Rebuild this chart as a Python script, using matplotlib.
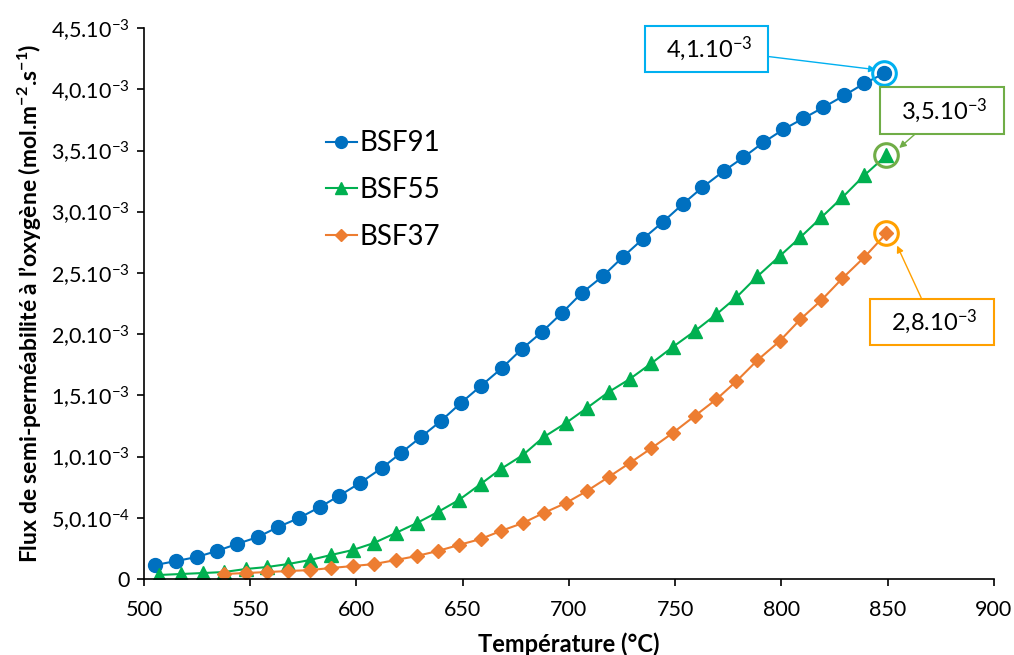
import matplotlib
matplotlib.use("Agg")
import matplotlib.pyplot as plt

plt.rcParams['font.family'] = ['Lato', 'DejaVu Sans']
plt.rcParams['mathtext.fontset'] = 'custom'
plt.rcParams['mathtext.rm'] = 'Lato'
plt.rcParams['mathtext.it'] = 'Lato:italic'
plt.rcParams['mathtext.bf'] = 'Lato:bold'

# temperatures (°C) and fluxes (x 1e-3 mol.m-2.s-1)
t_bsf91 = [505.2, 515.1, 524.9, 534.3, 543.7, 553.6, 563.0, 572.9, 582.8, 591.7,
           601.6, 611.9, 620.9, 630.3, 639.7, 649.1, 658.5, 668.4, 677.8, 687.2,
           696.6, 706.0, 715.9, 725.3, 734.7, 744.1, 753.5, 762.9, 772.8, 782.2,
           791.6, 801.0, 810.4, 819.8, 829.7, 839.1, 848.5]
f_bsf91 = [0.114, 0.147, 0.180, 0.229, 0.286, 0.343, 0.424, 0.498, 0.588, 0.678,
           0.784, 0.906, 1.029, 1.159, 1.290, 1.437, 1.576, 1.722, 1.878, 2.016,
           2.171, 2.335, 2.473, 2.629, 2.776, 2.914, 3.061, 3.200, 3.331, 3.445,
           3.567, 3.673, 3.763, 3.853, 3.951, 4.049, 4.131]

t_bsf55 = [507.1, 517.4, 527.8, 537.6, 548.0, 557.9, 567.7, 578.1, 588.0, 598.3,
           608.2, 618.5, 628.4, 638.3, 648.2, 658.5, 667.9, 678.3, 688.1, 698.5,
           708.4, 718.7, 728.6, 738.9, 748.8, 759.2, 769.5, 778.9, 788.8, 799.2,
           809.0, 818.9, 828.8, 839.1, 849.5]
f_bsf55 = [0.033, 0.041, 0.049, 0.057, 0.082, 0.098, 0.122, 0.155, 0.196, 0.237,
           0.294, 0.376, 0.457, 0.547, 0.645, 0.776, 0.898, 1.012, 1.159, 1.273,
           1.396, 1.527, 1.633, 1.763, 1.894, 2.024, 2.163, 2.302, 2.473, 2.637,
           2.792, 2.955, 3.118, 3.298, 3.461]

t_bsf37 = t_bsf55[3:]
f_bsf37 = [0.041, 0.049, 0.057, 0.065, 0.073, 0.090, 0.106, 0.122, 0.155, 0.188,
           0.229, 0.278, 0.327, 0.392, 0.457, 0.539, 0.620, 0.718, 0.833, 0.947,
           1.069, 1.192, 1.331, 1.469, 1.616, 1.788, 1.943, 2.122, 2.278, 2.457,
           2.629, 2.824]

y_ticks = [0, 0.5, 1.0, 1.5, 2.0, 2.5, 3.0, 3.5, 4.0, 4.5]
y_ticklabels = ['0', '5,0.10$^{-4}$', '1,0.10$^{-3}$', '1,5.10$^{-3}$', '2,0.10$^{-3}$',
                '2,5.10$^{-3}$', '3,0.10$^{-3}$', '3,5.10$^{-3}$', '4,0.10$^{-3}$',
                '4,5.10$^{-3}$']
x_ticks = [500, 550, 600, 650, 700, 750, 800, 850, 900]

blue = '#0070C0'
green = '#00B050'
orange = '#ED7D31'

fig = plt.figure(figsize=(10.14, 6.55), dpi=100)
ax = fig.add_axes([0.142, 0.116, 0.838, 0.841])

ax.plot(t_bsf91, f_bsf91, '-o', color=blue, lw=1.5, ms=10, label='BSF91')
ax.plot(t_bsf55, f_bsf55, '-^', color=green, lw=1.5, ms=10, label='BSF55')
ax.plot(t_bsf37, f_bsf37, '-D', color=orange, lw=1.5, ms=7, label='BSF37')

# highlight the last point of each series
ax.plot(t_bsf91[-1], f_bsf91[-1], 'o', ms=17, mfc='none', mec='#00B0F0', mew=2.2)
ax.plot(t_bsf55[-1], f_bsf55[-1], 'o', ms=17, mfc='none', mec='#70AD47', mew=2.2)
ax.plot(t_bsf37[-1], f_bsf37[-1], 'o', ms=17, mfc='none', mec='#FFA000', mew=2.2)

ax.annotate('  4,1.10$^{-3}$  ', xy=(t_bsf91[-1] - 4, f_bsf91[-1] + 0.03),
            xytext=(764.8, 4.33), fontsize=17, ha='center', va='center',
            bbox=dict(boxstyle='square,pad=0.38', fc='white', ec='#00B0F0', lw=1.5),
            arrowprops=dict(arrowstyle='-|>', color='#00B0F0', lw=1, shrinkA=0,
                            shrinkB=0, mutation_scale=10))
ax.annotate('  3,5.10$^{-3}$  ', xy=(t_bsf55[-1] + 6, f_bsf55[-1] + 0.06),
            xytext=(875.8, 3.83), fontsize=17, ha='center', va='center',
            bbox=dict(boxstyle='square,pad=0.38', fc='white', ec='#70AD47', lw=1.5),
            arrowprops=dict(arrowstyle='-|>', color='#70AD47', lw=1, shrinkA=0,
                            shrinkB=0, mutation_scale=10))
ax.annotate('  2,8.10$^{-3}$  ', xy=(t_bsf37[-1] + 5, f_bsf37[-1] - 0.1),
            xytext=(871.1, 2.10), fontsize=17, ha='center', va='center',
            bbox=dict(boxstyle='square,pad=0.38', fc='white', ec='#FFA000', lw=1.5),
            arrowprops=dict(arrowstyle='-|>', color='#FFA000', lw=1, shrinkA=0,
                            shrinkB=0, mutation_scale=10))

ax.set_xlim(500, 900)
ax.set_ylim(0, 4.5)
ax.set_xticks(x_ticks)
ax.set_yticks(y_ticks)
ax.set_yticklabels(y_ticklabels)
ax.tick_params(labelsize=15.5, direction='out', length=5, width=1.2, colors='black')
ax.tick_params(axis='x', pad=10)
ax.tick_params(axis='y', pad=5)

for s in ['top', 'right']:
    ax.spines[s].set_visible(False)
for s in ['left', 'bottom']:
    ax.spines[s].set_linewidth(1.2)

ax.set_xlabel('Température (°C)', fontsize=17, fontweight='bold', labelpad=9)
ax.set_ylabel('Flux de semi-perméabilité à l’oxygène (mol.m$^{\\mathbf{-2}}$.s$^{\\mathbf{-1}}$)',
              fontsize=16.5, fontweight='bold', labelpad=5)

ax.legend(loc='upper left', bbox_to_anchor=(0.185, 0.86), frameon=False,
          fontsize=20, handlelength=1.1, handletextpad=0.1, labelspacing=0.75,
          markerscale=0.85)

fig.savefig('out.png', dpi=100)
